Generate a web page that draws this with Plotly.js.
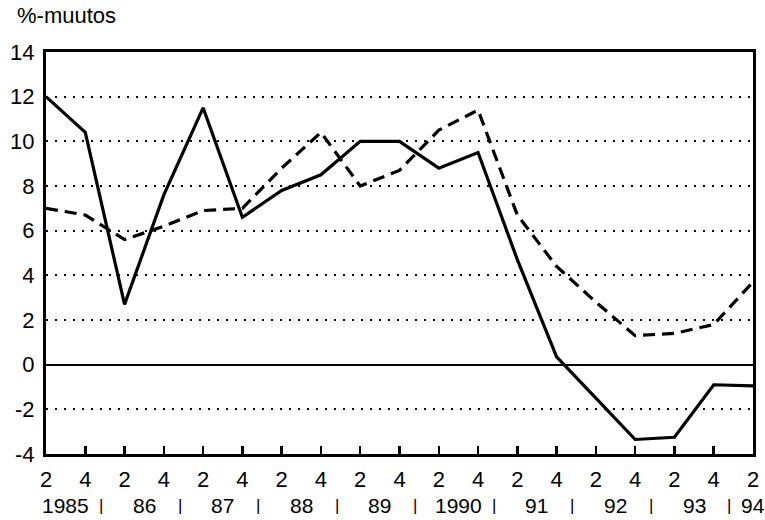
<!DOCTYPE html>
<html><head><meta charset="utf-8">
<script src="https://cdn.plot.ly/plotly-3.0.1.min.js"></script>
<style>html,body{margin:0;padding:0;background:#fff}#c{width:765px;height:520px}</style>
</head><body><div id="c"></div>
<script>
const halfYears = ["2","4","2","4","2","4","2","4","2","4","2","4","2","4","2","4","2","4","2"];
const solidSeries = [12.0,10.4,2.7,7.6,11.5,6.6,7.8,8.5,10.0,10.0,8.8,9.5,4.7,0.35,-1.5,-3.35,-3.25,-0.9,-0.95];
const dashedSeries = [7.0,6.7,5.6,6.2,6.9,7.0,8.8,10.4,8.0,8.7,10.5,11.4,6.7,4.4,2.8,1.3,1.4,1.8,3.7];
const yearLabels = ["1985","86","87","88","89","1990","91","92","93","94"];
const yTicks = [-4,-2,0,2,4,6,8,10,12,14];
const yTickText = ["-4","-2","0","2","4","6","8","10","12","14"];

const idx = halfYears.map((_, i) => i);
const black = '#000';
const FONT = 'Liberation Sans, Arial, sans-serif';
const traces = [
  {x: idx, y: solidSeries, mode: 'lines', line: {color: black, width: 3.2}, hoverinfo: 'skip'},
  {x: idx, y: dashedSeries, mode: 'lines', line: {color: black, width: 3.2, dash: '12px,7px'}, hoverinfo: 'skip'}
];

const annotations = [];
yearLabels.forEach((lab, k) => {
  const i0 = 2 * k;
  const xc = (k === yearLabels.length - 1) ? i0 : i0 + 0.5;
  annotations.push({x: xc, xref: 'x', y: -0.127, yref: 'paper', yanchor: 'middle',
    text: lab, showarrow: false, borderpad: 0, font: {size: 21, color: black, family: FONT}});
  if (k > 0) {
    annotations.push({x: i0 - 0.6, xref: 'x', y: -0.127, yref: 'paper', yanchor: 'middle',
      text: '|', showarrow: false, borderpad: 0, font: {size: 17, color: black, family: FONT}});
  }
});
annotations.push({x: -0.044, xref: 'paper', xanchor: 'left', y: 1.055, yref: 'paper', yanchor: 'bottom',
  text: '%-muutos', showarrow: false, font: {size: 22, color: black, family: FONT}});

const layout = {
  width: 765, height: 520,
  margin: {l: 46, r: 12, t: 52, b: 66},
  paper_bgcolor: '#fff', plot_bgcolor: '#fff',
  showlegend: false,
  font: {family: FONT, color: black, size: 22},
  xaxis: {
    range: [0, 18], tickmode: 'array', tickvals: idx, ticktext: halfYears,
    ticks: 'inside', ticklen: 8, tickwidth: 2.5, tickcolor: black,
    ticklabelstandoff: 4,
    showgrid: false, zeroline: false,
    showline: true, linecolor: black, linewidth: 3, mirror: true,
    tickfont: {size: 22, color: black, family: FONT}
  },
  yaxis: {
    range: [-4, 14], tickmode: 'array', tickvals: yTicks, ticktext: yTickText,
    ticks: '', ticklabelstandoff: 4,
    showgrid: true, gridcolor: black, gridwidth: 2, griddash: '2px,7px',
    zeroline: true, zerolinecolor: black, zerolinewidth: 2.2,
    showline: true, linecolor: black, linewidth: 3, mirror: true,
    tickfont: {size: 22, color: black, family: FONT}
  },
  annotations: annotations
};
Plotly.newPlot('c', traces, layout, {displayModeBar: false, staticPlot: true});
</script></body></html>
